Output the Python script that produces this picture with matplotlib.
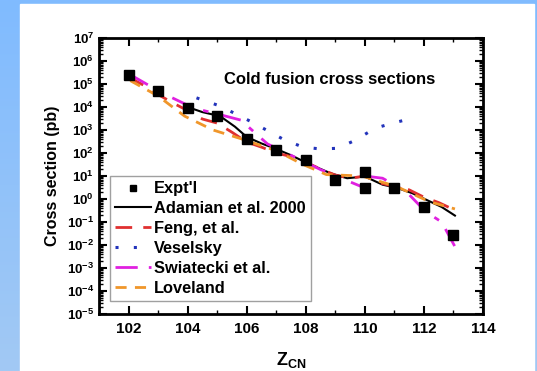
import numpy as np
import matplotlib
matplotlib.use('Agg')
import matplotlib.pyplot as plt
from matplotlib.patches import Rectangle
from matplotlib.ticker import LogLocator, FixedLocator, NullFormatter, FuncFormatter

plt.rcParams['font.family'] = ['Liberation Sans', 'DejaVu Sans']
plt.rcParams['font.weight'] = 'bold'
plt.rcParams['axes.labelweight'] = 'bold'
plt.rcParams['mathtext.fontset'] = 'custom'
plt.rcParams['mathtext.rm'] = 'Liberation Sans:bold'
plt.rcParams['mathtext.it'] = 'Liberation Sans:bold'
plt.rcParams['mathtext.bf'] = 'Liberation Sans:bold'

# experimental points (Z, cross section in pb)
z_exp = [102, 103, 104, 105, 106, 107, 108, 109, 110, 110, 111, 112, 113]
s_exp = [2.5e5, 5e4, 9e3, 4e3, 4e2, 1.3e2, 50, 7, 15, 3, 3, 0.45, 0.027]

z_adamian = [103.9, 104.5, 105.1, 105.6, 106.0, 106.5, 107.0, 107.5, 107.9, 108.4, 108.85, 109.4, 110.0, 110.6, 111.1, 111.6, 112.1, 112.6, 113.05]
s_adamian = [1.1e4, 6e3, 4e3, 1.4e3, 5e2, 2.6e2, 1.5e2, 8e1, 4.5e1, 2.3e1, 1.3e1, 8, 9.5, 4.2, 3.0, 1.8, 0.9, 0.45, 0.19]

z_feng = [102, 102.5, 103, 103.5, 104, 104.5, 105, 105.5, 106, 106.5, 107, 107.5, 108, 108.5, 109, 109.5, 110, 110.5, 111, 111.5, 112, 112.5, 113]
s_feng = [2e5, 9e4, 3.5e4, 1.5e4, 7e3, 3e3, 2e3, 8e2, 3e2, 1.8e2, 1e2, 7e1, 4e1, 2e1, 1.1e1, 8, 1e1, 5, 3.5, 2.5, 1.2, 0.7, 0.35]

z_veselsky = [104.3, 105.1, 106.15, 107.2, 107.9, 108.5, 109.07, 109.66, 110.35, 110.95, 111.5]
s_veselsky = [2.5e4, 1.1e4, 2.3e3, 4.2e2, 1.8e2, 1.5e2, 1.6e2, 3.5e2, 1.2e3, 2e3, 3e3]

z_swiatecki = [102, 102.5, 103.1, 104.2, 105, 105.8, 106.7, 107.55, 108.5, 109.2, 109.9, np.nan, 110.0, 110.6, 111.4, 112.06, 112.6, 113.04]
s_swiatecki = [2.8e5, 1.2e5, 4.3e4, 9e3, 5e3, 2.7e3, 2.5e2, 7.4e1, 1.9e1, 8, 3.4, np.nan, 1e1, 8, 2.1, 0.28, 0.1, 0.009]

z_loveland = [102.06, 103, 103.9, 104.86, 105.8, 107, 107.9, 108.7, 109.9, 111.07, 112.2, 113.05]
s_loveland = [1.4e5, 3e4, 4e3, 1e3, 4.2e2, 1.26e2, 3.2e1, 1.15e1, 1e1, 3.5, 0.75, 0.37]

fig = plt.figure(figsize=(5.37, 3.71), dpi=100)

# blue frame with white panel
bg = fig.add_axes([0, 0, 1, 1], zorder=-10)
grad = np.linspace(0, 1, 256).reshape(-1, 1)
cmap = matplotlib.colors.LinearSegmentedColormap.from_list('bg', ['#80bbff', '#a2c9f4'])
bg.imshow(grad, aspect='auto', cmap=cmap, extent=[0, 1, 0, 1], origin='upper')
bg.add_patch(Rectangle((20 / 537, 0), (534 - 20) / 537, 1 - 4 / 371, color='white'))
bg.set_xlim(0, 1)
bg.set_ylim(0, 1)
bg.axis('off')

ax = fig.add_axes([99 / 537, 1 - 314 / 371, 384 / 537, 276 / 371])

ax.plot(z_exp, s_exp, linestyle='none', marker='s', markersize=7, color='black', label="Expt'l", zorder=5)
ax.plot(z_adamian, s_adamian, color='black', linewidth=1.5, label='Adamian et al. 2000')
ax.plot(z_feng, s_feng, color='#e03030', linewidth=2, dashes=(6, 4), label='Feng, et al.')
ax.plot(z_veselsky, s_veselsky, color='#2233bb', linewidth=2.2, dashes=(1, 5), label='Veselsky')
ax.plot(z_swiatecki, s_swiatecki, color='#e020e0', linewidth=2, dashes=(8, 4, 2, 4), label='Swiatecki et al.')
ax.plot(z_loveland, s_loveland, color='#f0962a', linewidth=2, dashes=(4, 3), label='Loveland')

ax.set_yscale('log')
ax.set_xlim(101, 114)
ax.set_ylim(1e-5, 1e7)
ax.xaxis.set_major_locator(FixedLocator([102, 104, 106, 108, 110, 112, 114]))
ax.xaxis.set_minor_locator(FixedLocator([101, 103, 105, 107, 109, 111, 113]))
ax.yaxis.set_major_locator(LogLocator(base=10, numticks=20))
ax.yaxis.set_minor_locator(LogLocator(base=10, subs=np.arange(2, 10), numticks=20))
ax.yaxis.set_minor_formatter(NullFormatter())
ax.yaxis.set_major_formatter(FuncFormatter(lambda v, p: r'$\mathbf{10^{%d}}$' % round(np.log10(v))))

ax.tick_params(which='both', direction='in', top=True, right=True)
ax.tick_params(axis='x', labelsize=11, pad=6)
ax.tick_params(axis='y', labelsize=9.5)
ax.tick_params(which='major', length=6, width=1.5)
ax.tick_params(which='minor', length=3, width=1)
for lab in ax.get_xticklabels() + ax.get_yticklabels():
    lab.set_fontweight('heavy')
for sp in ax.spines.values():
    sp.set_linewidth(2)

ax.set_xlabel(r'Z$_{\mathrm{CN}}$', fontsize=13, labelpad=10)
ax.set_ylabel('Cross section (pb)', fontsize=11.5, labelpad=5)
ax.text(0.60, 0.848, 'Cold fusion cross sections', transform=ax.transAxes,
        ha='center', va='center', fontsize=12)

leg = ax.legend(loc='lower left', bbox_to_anchor=(0.028, 0.048), fancybox=False,
                edgecolor='#888888', fontsize=11.8, handlelength=2.2, handletextpad=0.2,
                labelspacing=0.3, borderpad=0.3, borderaxespad=0, markerscale=0.55)
leg.get_frame().set_linewidth(1)

plt.savefig('out.png', dpi=100)
